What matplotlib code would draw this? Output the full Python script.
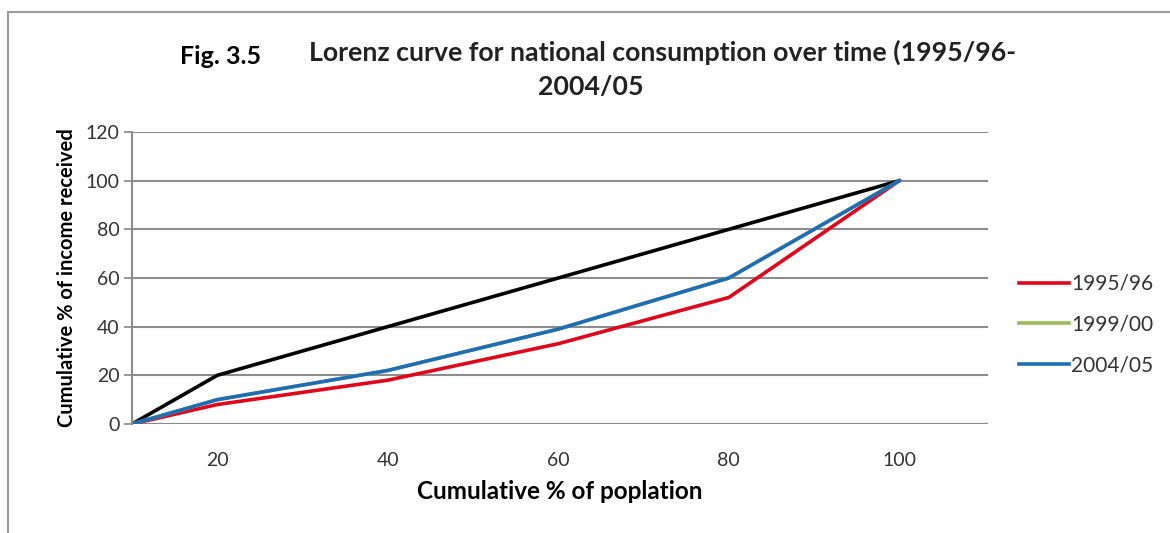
import matplotlib.pyplot as plt
from matplotlib.patches import Rectangle

plt.rcParams['font.family'] = ['Lato', 'DejaVu Sans']

# Data
population = [10, 20, 40, 60, 80, 100]
equality = [0, 20, 40, 60, 80, 100]
y1995 = [0, 8, 18, 33, 52, 100]
y1999 = [0, 10, 22, 39, 60, 100]
y2004 = [0, 10, 22, 39, 60, 100]
x_ticks = [20, 40, 60, 80, 100]
y_ticks = [0, 20, 40, 60, 80, 100, 120]

fig = plt.figure(figsize=(11.7, 5.33), dpi=100)
fig.patches.append(Rectangle((8 / 1170, -0.1), 1.2, 1 - 12 / 533 + 0.1,
                             transform=fig.transFigure, fill=False,
                             edgecolor='#9a9a9a', linewidth=1.5))

ax = fig.add_axes([132 / 1170, 1 - 424 / 533, (988 - 132) / 1170, (424 - 132) / 533])

ax.plot(population, equality, color='black', linewidth=2.6, solid_capstyle='round')
ax.plot(population, y1995, color='#e0061c', linewidth=2.6, label='1995/96')
ax.plot(population, y1999, color='#9bbb59', linewidth=2.6, label='1999/00')
ax.plot(population, y2004, color='#1f6db5', linewidth=2.6, label='2004/05')

ax.set_xlim(10, 110.4)
ax.set_ylim(0, 120)
ax.set_xticks(x_ticks)
ax.set_yticks(y_ticks)
ax.tick_params(axis='x', length=0, pad=20, labelsize=14, labelcolor='#333333')
ax.tick_params(axis='y', length=6, color='#888888', width=1.2, pad=3,
               labelsize=14, labelcolor='#333333')
ax.yaxis.grid(True, color='#8c8c8c', linewidth=1.5)
ax.set_axisbelow(True)
for side in ['top', 'right', 'bottom']:
    ax.spines[side].set_visible(False)
ax.spines['left'].set_color('#8c8c8c')
ax.spines['left'].set_linewidth(1.5)

ax.set_xlabel('Cumulative % of poplation', fontsize=17.5, fontweight='bold', labelpad=8)
ax.set_ylabel('Cumulative % of income received', fontsize=14.5, fontweight='bold', labelpad=6)

ax.legend(loc='center left', bbox_to_anchor=(1.036, 0.34), frameon=False,
          fontsize=15, handlelength=2.4, handletextpad=0.1, labelspacing=1.0,
          borderaxespad=0, borderpad=0, labelcolor='#333333')

fig.text(221 / 1170, 1 - 57 / 533, 'Fig. 3.5', fontsize=18, fontweight='bold',
         ha='center', va='center')
fig.text(663 / 1170, 1 - 52 / 533, 'Lorenz curve for national consumption over time (1995/96-',
         fontsize=19.3, fontweight='bold', ha='center', va='center', color='#222222')
fig.text(591 / 1170, 1 - 87 / 533, '2004/05', fontsize=19.3, fontweight='bold',
         ha='center', va='center', color='#222222')

fig.savefig('out.png', dpi=100)
